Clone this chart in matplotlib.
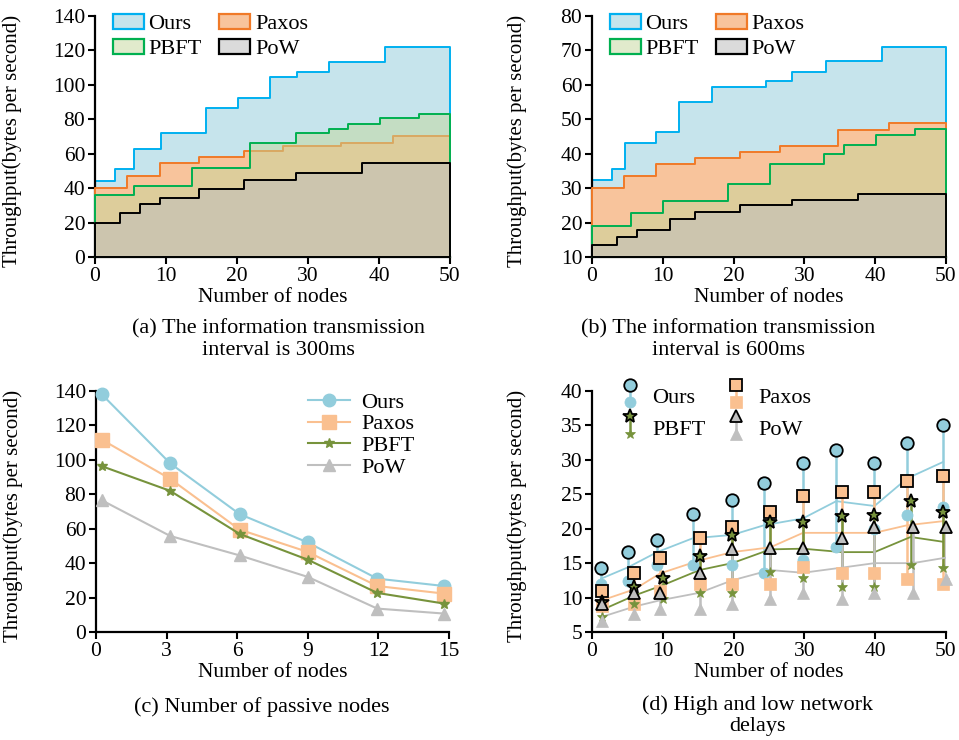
import numpy as np
import matplotlib
matplotlib.use("Agg")
from matplotlib import pyplot as plt
from matplotlib.lines import Line2D
from matplotlib.patches import Patch
from matplotlib.legend_handler import HandlerBase

plt.rcParams['font.family'] = ['Liberation Serif', 'DejaVu Serif']
plt.rcParams['font.size'] = 15

# (a) step edges, interval 300ms
a_ours_x = [0, 2.8, 5.5, 9.3, 15.7, 20.2, 24.7, 28.4, 33.0, 40.9]
a_ours_y = [44, 51, 63, 72, 86.5, 92.5, 104.5, 107.5, 113.5, 122]
a_paxos_x = [0, 4.5, 9.2, 14.6, 21.0, 26.5, 34.7, 42.0]
a_paxos_y = [40, 47, 54.5, 58, 61.5, 64.5, 66.5, 70.5]
a_pbft_x = [0, 5.5, 13.7, 21.9, 28.3, 33.0, 35.7, 40.1, 45.7]
a_pbft_y = [36, 41.5, 51.5, 66, 72, 74.5, 77.5, 81, 83]
a_pow_x = [0, 3.5, 6.3, 9.2, 14.6, 21.0, 28.3, 37.6]
a_pow_y = [19.5, 25.5, 30.5, 34.5, 39.5, 45, 49, 54.5]

# (b) step edges, interval 600ms
b_ours_x = [0, 2.8, 4.6, 9.0, 12.3, 16.9, 24.6, 28.3, 33.0, 41.0]
b_ours_y = [32.5, 35.5, 43.2, 46.2, 55, 59.4, 61, 63.6, 66.8, 71]
b_paxos_x = [0, 4.5, 9.0, 14.6, 20.9, 26.5, 34.7, 42.0]
b_paxos_y = [30, 33.5, 37.1, 38.9, 40.5, 42.1, 46.8, 48.9]
b_pbft_x = [0, 5.5, 10.0, 19.2, 25.2, 32.8, 35.6, 40.1, 45.6]
b_pbft_y = [19, 22.8, 26.4, 31.2, 37.1, 40, 42.4, 45.5, 47.2]
b_pow_x = [0, 3.6, 6.4, 11.0, 14.6, 20.9, 28.3, 37.5]
b_pow_y = [13.4, 15.7, 17.9, 21, 23.2, 25, 26.6, 28.3]

# (c) passive nodes
c_x = [0.25, 3.15, 6.1, 9.0, 11.95, 14.8]
c_ours = [138, 98, 68.5, 52, 31, 26.7]
c_paxos = [111.7, 89, 59.5, 46.5, 26.7, 22.3]
c_pbft = [96.3, 82, 57, 42, 22.7, 16.5]
c_pow = [76.5, 55.8, 44.5, 32, 13.6, 10.7]

# (d) high / low / mean delays
d_ours_x = [1.3, 5.1, 9.2, 14.2, 19.8, 24.3, 29.8, 34.5, 39.9, 44.5, 49.6]
d_ours_hi = [14.3, 16.6, 18.4, 22.1, 24.1, 26.7, 29.6, 31.4, 29.6, 32.5, 35.1]
d_ours_lo = [12.0, 12.4, 14.7, 14.7, 14.7, 13.6, 15.5, 17.3, 20.0, 22.0, 23.2]
d_ours_mean = [12.75, 14.4, 16.6, 18.6, 19.1, 20.5, 21.5, 24.0, 23.3, 27.3, 29.7]

d_paxos_x = [1.4, 6.0, 9.6, 15.2, 19.8, 25.2, 29.8, 35.3, 39.9, 44.5, 49.6]
d_paxos_hi = [11.0, 13.6, 15.8, 18.7, 20.3, 22.4, 24.7, 25.4, 25.4, 26.9, 27.7]
d_paxos_lo = [8.8, 9.1, 11.0, 12.0, 12.0, 12.0, 14.4, 13.6, 13.6, 12.75, 12.0]
d_paxos_mean = [9.6, 11.2, 13.5, 15.4, 16.6, 17.3, 19.4, 19.4, 19.4, 20.5, 21.1]

d_pbft_x = [1.4, 6.0, 10.0, 15.2, 19.8, 25.2, 29.8, 35.3, 39.9, 45.0, 49.6]
d_pbft_hi = [9.3, 11.6, 12.8, 16.1, 19.1, 21.0, 21.0, 21.8, 22.0, 24.0, 22.5]
d_pbft_lo = [7.2, 9.1, 9.8, 10.7, 10.7, 13.7, 12.8, 11.6, 11.6, 14.8, 14.3]
d_pbft_mean = [8.2, 10.3, 11.8, 14.0, 15.0, 17.0, 17.1, 16.6, 16.6, 18.8, 18.1]

d_pow_x = [1.4, 6.0, 9.6, 15.2, 19.8, 25.2, 29.8, 35.3, 39.9, 45.3, 50.0]
d_pow_hi = [9.0, 10.6, 10.6, 13.5, 17.1, 17.2, 17.2, 18.7, 20.2, 20.2, 20.2]
d_pow_lo = [6.6, 7.6, 8.3, 8.3, 9.0, 9.75, 10.6, 9.75, 10.6, 10.6, 12.75]
d_pow_mean = [7.2, 8.7, 9.6, 10.7, 12.5, 14.0, 13.6, 14.35, 15.0, 15.0, 15.8]

names = ['Ours', 'Paxos', 'PBFT', 'PoW']
# two-column legends are filled column by column, so this puts Ours/Paxos on row 1
row_order = [0, 2, 1, 3]

# colours
step_face = ['#C6E4EC', '#F8C49C', '#C4D79B', '#BFBFBF']
step_alpha = [1.0, 1.0, 0.5, 0.55]
step_edge = ['#00B0F0', '#F07A28', '#00B050', '#000000']
line_col = ['#92CDDC', '#FAC090', '#77933C', '#BFBFBF']

fig = plt.figure(figsize=(9.59, 7.4), dpi=100)


def px_axes(l, r, t, b):
    return fig.add_axes([l / 959, 1 - b / 740, (r - l) / 959, (b - t) / 740])


def style(ax, xlab_y=-0.13, ylab_x=-0.205):
    for s in ['top', 'right']:
        ax.spines[s].set_visible(False)
    for s in ['left', 'bottom']:
        ax.spines[s].set_linewidth(1.6)
    ax.tick_params(direction='out', length=5, width=1.5, labelsize=15.5, pad=2)
    ax.set_xlabel('Number of nodes', fontsize=15.5)
    ax.set_ylabel('Throughput(bytes per second)', fontsize=15)
    ax.xaxis.set_label_coords(0.5, xlab_y)
    ax.yaxis.set_label_coords(ylab_x, 0.48)


def step_panel(ax, xs, ys, base):
    for i in range(4):
        x = list(xs[i]) + [50]
        y = list(ys[i]) + [ys[i][-1]]
        coll = ax.fill_between(x, y, base, step='post',
                               facecolor=matplotlib.colors.to_rgba(step_face[i], step_alpha[i]),
                               edgecolor=step_edge[i], linewidth=1.4, zorder=2 + i)
        coll.set_clip_on(False)
    handles = [Patch(facecolor=matplotlib.colors.to_rgba(step_face[i], step_alpha[i]),
                     edgecolor=step_edge[i], linewidth=1.6) for i in range(4)]
    ax.legend([handles[k] for k in row_order], [names[k] for k in row_order],
              ncol=2, loc='upper left', bbox_to_anchor=(0.05, 1.01),
              frameon=False, handlelength=1.4, handleheight=0.7, handletextpad=0.2,
              columnspacing=0.8, labelspacing=0.2, borderpad=0, borderaxespad=0,
              fontsize=16)
    ax.set_xlim(0, 50)
    ax.set_xticks([0, 10, 20, 30, 40, 50])


# (a)
ax_a = px_axes(95, 450, 16, 257)
step_panel(ax_a, [a_ours_x, a_paxos_x, a_pbft_x, a_pow_x],
           [a_ours_y, a_paxos_y, a_pbft_y, a_pow_y], 0)
ax_a.set_ylim(0, 140)
ax_a.set_yticks(range(0, 141, 20))
style(ax_a, ylab_x=-0.205)

# (b)
ax_b = px_axes(592, 946, 16, 257)
step_panel(ax_b, [b_ours_x, b_paxos_x, b_pbft_x, b_pow_x],
           [b_ours_y, b_paxos_y, b_pbft_y, b_pow_y], 10)
ax_b.set_ylim(10, 80)
ax_b.set_yticks(range(10, 81, 10))
style(ax_b, ylab_x=-0.183)

# (c)
ax_c = px_axes(96, 449, 391, 632)
c_markers = ['o', 's', '*', '^']
c_ms = [9, 9.5, 7, 8]
for i, ys in enumerate([c_ours, c_paxos, c_pbft, c_pow]):
    ax_c.plot(c_x, ys, color=line_col[i], marker=c_markers[i], ms=c_ms[i],
              lw=1.5, mec=line_col[i], label=names[i], clip_on=False, zorder=3 + i)
ax_c.set_xlim(0, 15)
ax_c.set_ylim(0, 140)
ax_c.set_xticks([0, 3, 6, 9, 12, 15])
ax_c.set_yticks(range(0, 141, 20))
ax_c.legend(loc='upper left', bbox_to_anchor=(0.60, 0.995), frameon=False,
            handlelength=1.9, handletextpad=0.5, labelspacing=0.05, borderpad=0,
            borderaxespad=0, fontsize=16)
style(ax_c, ylab_x=-0.207)

# (d)
ax_d = px_axes(592, 946, 391, 632)
d_markers = ['o', 's', '*', '^']
d_hi_ms = [9, 9, 10, 9]
d_lo_ms = [8, 8.5, 7, 8]
d_sets = [(d_ours_x, d_ours_hi, d_ours_lo, d_ours_mean),
          (d_paxos_x, d_paxos_hi, d_paxos_lo, d_paxos_mean),
          (d_pbft_x, d_pbft_hi, d_pbft_lo, d_pbft_mean),
          (d_pow_x, d_pow_hi, d_pow_lo, d_pow_mean)]
for i, (x, hi, lo, mean) in enumerate(d_sets):
    ax_d.vlines(x, lo, hi, color=line_col[i], lw=1.8, zorder=2)
    ax_d.plot(x, mean, color=line_col[i], lw=1.3, zorder=2)
for i, (x, hi, lo, mean) in enumerate(d_sets):
    ax_d.plot(x, lo, ls='none', marker=d_markers[i], ms=d_lo_ms[i],
              mfc=line_col[i], mec=line_col[i], mew=0.5, zorder=3, clip_on=False)
for i, (x, hi, lo, mean) in enumerate(d_sets):
    ax_d.plot(x, hi, ls='none', marker=d_markers[i], ms=d_hi_ms[i],
              mfc=line_col[i], mec='black', mew=1.3, zorder=4, clip_on=False)
ax_d.set_xlim(0, 50)
ax_d.set_ylim(5, 40)
ax_d.set_xticks([0, 10, 20, 30, 40, 50])
ax_d.set_yticks(range(5, 41, 5))


class HiLo:
    def __init__(self, i):
        self.i = i


class HiLoHandler(HandlerBase):
    # high marker on top, low marker below, joined by a stem
    def create_artists(self, legend, orig_handle, xdescent, ydescent,
                       width, height, fontsize, trans):
        i = orig_handle.i
        cx = width / 2 - xdescent
        cy = (height - ydescent) / 2
        top = cy + 0.4 * fontsize
        bot = cy - 0.4 * fontsize
        stem = Line2D([cx, cx], [bot, top], color=line_col[i], lw=1.8)
        lo = Line2D([cx], [bot], ls='none', marker=d_markers[i], ms=d_lo_ms[i],
                    mfc=line_col[i], mec=line_col[i], mew=0.5)
        hi = Line2D([cx], [top], ls='none', marker=d_markers[i], ms=d_hi_ms[i],
                    mfc=line_col[i], mec='black', mew=1.3)
        for art in (stem, lo, hi):
            art.set_transform(trans)
        return [stem, lo, hi]


ax_d.legend([HiLo(k) for k in row_order], [names[k] for k in row_order], ncol=2,
            handler_map={HiLo: HiLoHandler()}, loc='upper left',
            bbox_to_anchor=(0.075, 1.03), frameon=False, handlelength=1.0,
            handleheight=1.3, handletextpad=0.5, columnspacing=0.9,
            labelspacing=0.3, borderpad=0, borderaxespad=0, fontsize=16)
style(ax_d, ylab_x=-0.183)

# captions
fig.text(278 / 959, 1 - 339.5 / 740, '(a) The information transmission\ninterval is 300ms',
         ha='center', va='center', fontsize=16, linespacing=1.15)
fig.text(728 / 959, 1 - 339.5 / 740, '(b) The information transmission\ninterval is 600ms',
         ha='center', va='center', fontsize=16, linespacing=1.15)
fig.text(262 / 959, 1 - 707 / 740, '(c) Number of passive nodes',
         ha='center', va='center', fontsize=16)
fig.text(757 / 959, 1 - 715.5 / 740, '(d) High and low network\ndelays',
         ha='center', va='center', fontsize=16, linespacing=1.15)

fig.savefig('out.png', dpi=100)
